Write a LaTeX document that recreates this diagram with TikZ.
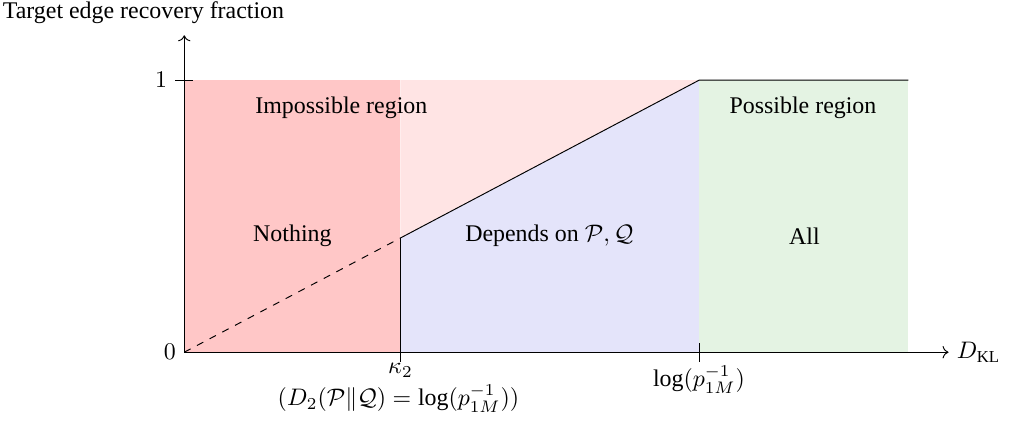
\documentclass[tikz,border=0pt]{standalone}
\usepackage{fontspec}
\setmainfont{Liberation Serif}
\usetikzlibrary{arrows.meta}

\definecolor{impred}{RGB}{255,199,199}
\definecolor{implight}{RGB}{255,228,228}
\definecolor{depblue}{RGB}{228,228,250}
\definecolor{posgreen}{RGB}{228,243,227}

\begin{document}
\begin{tikzpicture}[axis/.style={->}, tick/.style={thin}, region/.style={font=\normalsize}, ticklabel/.style={font=\normalsize}]
\useasboundingbox (-2.71,-1.09) rectangle (12.35,5.18);

% key points
\coordinate (O) at (0,0);
\coordinate (K) at (3.18,0);
\coordinate (L) at (7.57,0);
\coordinate (E) at (10.65,0);
\coordinate (T) at (0,4);
\coordinate (KT) at (3.18,4);
\coordinate (LT) at (7.57,4);
\coordinate (ET) at (10.65,4);
\coordinate (KM) at (3.18,1.68);
\coordinate (XE) at (11.24,0);
\coordinate (YE) at (0,4.66);

% regions
\fill[impred] (O) rectangle (KT);
\fill[implight] (KM) -- (LT) -- (KT) -- cycle;
\fill[depblue] (K) -- (KM) -- (LT) -- (L) -- cycle;
\fill[posgreen] (L) rectangle (ET);

% boundary
\draw (K) -- (KM) -- (LT) -- (ET);
\draw[dashed] (O) -- (KM);

% axes
\draw[axis] (O) -- (XE) node[right] (xlab) {$D_{\mathrm{KL}}$};
\draw[axis] (O) -- (YE);
\node (ylab) at (-0.6,5.0) {Target edge recovery fraction};

% ticks
\draw[tick] ([xshift=-0.13cm]T) -- ([xshift=0.13cm]T);
\draw[tick] (K) -- ([yshift=-0.15cm]K);
\draw[tick] ([yshift=0.13cm]L) -- ([yshift=-0.15cm]L);
\node[ticklabel, left] (zero) at (O) {$0$};
\node[ticklabel, left] (one) at ([xshift=-0.13cm]T) {$1$};
\node[ticklabel] (kap) at (3.18,-0.27) {$\kappa_2$};
\node[ticklabel] (kapdef) at (3.15,-0.68) {$(D_2(\mathcal{P}\|\mathcal{Q}) = \log(p_{1M}^{-1}))$};
\node[ticklabel] (logp) at (7.57,-0.4) {$\log(p_{1M}^{-1})$};

% region labels
\node[region] (imp) at (2.31,3.6) {Impossible region};
\node[region] (pos) at (9.1,3.6) {Possible region};
\node[region] (nth) at (1.59,1.71) {Nothing};
\node[region] (dep) at (5.37,1.71) {Depends on $\mathcal{P},\mathcal{Q}$};
\node[region] (all) at (9.12,1.71) {All};
\end{tikzpicture}
\end{document}
